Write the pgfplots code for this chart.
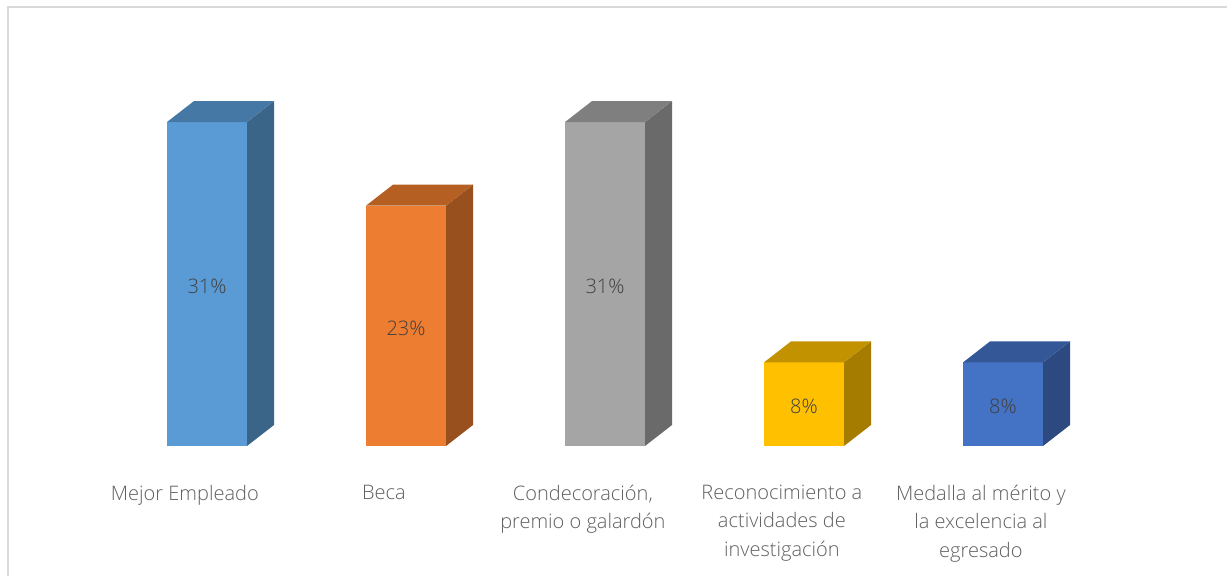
\documentclass[border=0pt]{standalone}
\usepackage{fontspec}
\setmainfont{Open Sans}[UprightFont=* Light]
\usepackage{pgfplots}
\pgfplotsset{compat=1.18}
\definecolor{lab}{HTML}{5F5F5F}
\definecolor{dl}{HTML}{404040}
\definecolor{frame}{HTML}{D9D9D9}
\definecolor{aF}{HTML}{5B9BD5}\definecolor{aS}{HTML}{3A6488}\definecolor{aT}{HTML}{4678A6}
\definecolor{bF}{HTML}{ED7D31}\definecolor{bS}{HTML}{98501E}\definecolor{bT}{HTML}{B55F22}
\definecolor{cF}{HTML}{A5A5A5}\definecolor{cS}{HTML}{6A6A6A}\definecolor{cT}{HTML}{7F7F7F}
\definecolor{dF}{HTML}{FFC000}\definecolor{dS}{HTML}{A67C00}\definecolor{dT}{HTML}{C29200}
\definecolor{eF}{HTML}{4472C4}\definecolor{eS}{HTML}{2C4A80}\definecolor{eT}{HTML}{335797}
\begin{document}
\begin{tikzpicture}
\path[use as bounding box] (0,0) rectangle (920.25pt,431.25pt);
\begin{axis}[
  at={(0pt,96.75pt)}, anchor=south west,
  scale only axis, width=920.25pt, height=329.25pt,
  xmin=-1.0402, xmax=5.1256, ymin=0, ymax=42.01,
  axis line style={draw=none}, major tick length=0pt,
  ytick=\empty, xtick={0,1,2,3,4},
  xticklabels={Mejor Empleado,Beca,{Condecoración,\\premio o galardón},{Reconocimiento a\\actividades de\\investigación},{Medalla al mérito y\\la excelencia al\\egresado}},
  xticklabel style={align=center, anchor=north, xshift=-16.6pt, yshift=-25.6pt, text=lab, font=\fontsize{15}{21.4}\selectfont},
  clip=false,
]
% frame
\draw[frame, line width=1.2pt] (rel axis cs:0.0065,-0.3925) -- (rel axis cs:0.0065,1) -- (rel axis cs:1,1);
% Mejor Empleado
\addplot[ybar, bar shift=0pt, bar width=60pt, fill=aF, draw=none] coordinates {(0,31)};
\addplot[fill=aS, draw=none] coordinates {(0.201,0) (0.3367,2.01) (0.3367,33.01) (0.201,31)} --cycle;
\addplot[fill=aT, draw=none] coordinates {(-0.201,31) (-0.0653,33.01) (0.3367,33.01) (0.201,31)} --cycle;
% Beca
\addplot[ybar, bar shift=0pt, bar width=60pt, fill=bF, draw=none] coordinates {(1,23)};
\addplot[fill=bS, draw=none] coordinates {(1.201,0) (1.3367,2.01) (1.3367,25.01) (1.201,23)} --cycle;
\addplot[fill=bT, draw=none] coordinates {(0.799,23) (0.9347,25.01) (1.3367,25.01) (1.201,23)} --cycle;
% Condecoracion
\addplot[ybar, bar shift=0pt, bar width=60pt, fill=cF, draw=none] coordinates {(2,31)};
\addplot[fill=cS, draw=none] coordinates {(2.201,0) (2.3367,2.01) (2.3367,33.01) (2.201,31)} --cycle;
\addplot[fill=cT, draw=none] coordinates {(1.799,31) (1.9347,33.01) (2.3367,33.01) (2.201,31)} --cycle;
% Reconocimiento
\addplot[ybar, bar shift=0pt, bar width=60pt, fill=dF, draw=none] coordinates {(3,8)};
\addplot[fill=dS, draw=none] coordinates {(3.201,0) (3.3367,2.01) (3.3367,10.01) (3.201,8)} --cycle;
\addplot[fill=dT, draw=none] coordinates {(2.799,8) (2.9347,10.01) (3.3367,10.01) (3.201,8)} --cycle;
% Medalla
\addplot[ybar, bar shift=0pt, bar width=60pt, fill=eF, draw=none] coordinates {(4,8)};
\addplot[fill=eS, draw=none] coordinates {(4.201,0) (4.3367,2.01) (4.3367,10.01) (4.201,8)} --cycle;
\addplot[fill=eT, draw=none] coordinates {(3.799,8) (3.9347,10.01) (4.3367,10.01) (4.201,8)} --cycle;
% data labels
\node[text=dl, font=\fontsize{15}{18}\selectfont] at (axis cs:0,15.3) {31\%};
\node[text=dl, font=\fontsize{15}{18}\selectfont] at (axis cs:1,11.3) {23\%};
\node[text=dl, font=\fontsize{15}{18}\selectfont] at (axis cs:2,15.3) {31\%};
\node[text=dl, font=\fontsize{15}{18}\selectfont] at (axis cs:3,3.8) {8\%};
\node[text=dl, font=\fontsize{15}{18}\selectfont] at (axis cs:4,3.8) {8\%};
\end{axis}
\end{tikzpicture}
\end{document}
